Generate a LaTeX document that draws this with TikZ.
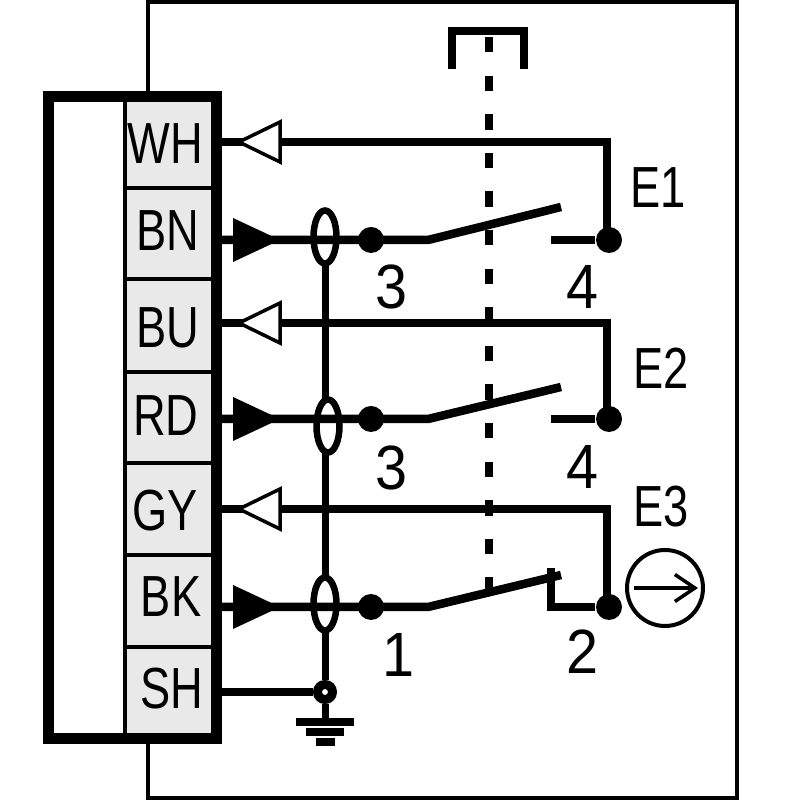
\documentclass[tikz,border=0pt]{standalone}
\usepackage{fontspec}
\setmainfont{Liberation Sans}[FakeStretch=0.78]
\newfontfamily\numfont{Liberation Sans}[FakeStretch=0.92]
\usetikzlibrary{shapes.geometric,arrows.meta}
\definecolor{cellgrey}{HTML}{E9E9E9}
\tikzset{
  pinlabel/.style={inner sep=0pt,font=\fontsize{16.5}{18}\selectfont},
  numlabel/.style={inner sep=0pt,font=\numfont\fontsize{17.8}{19}\selectfont},
  wire/.style={draw=black,line width=0.085cm},
  joint/.style={circle,fill=black,inner sep=0pt,minimum size=0.26cm},
  shield/.style={ellipse,draw=black,line width=0.065cm,inner sep=0pt,outer sep=0pt,minimum width=0.23cm,minimum height=0.53cm},
}
\begin{document}
\begin{tikzpicture}
      \useasboundingbox (0,0) rectangle (8,8);
      % housing and plug
      \draw[line width=0.04cm] (1.48,0.02) rectangle (7.37,7.98);
      \draw[fill=white,line width=0.11cm] (0.485,0.615) rectangle (2.165,7.035);
      \fill[cellgrey] (1.25,0.67) rectangle (2.11,6.98);
      \draw[line width=0.04cm] (1.25,0.67) -- (1.25,6.98);
      \draw[line width=0.04cm] (1.25,6.12) -- (2.11,6.12);
      \draw[line width=0.04cm] (1.25,5.21) -- (2.11,5.21);
      \draw[line width=0.04cm] (1.25,4.28) -- (2.11,4.28);
      \draw[line width=0.04cm] (1.25,3.37) -- (2.11,3.37);
      \draw[line width=0.04cm] (1.25,2.45) -- (2.11,2.45);
      \draw[line width=0.04cm] (1.25,1.53) -- (2.11,1.53);
      \begin{scope}[every node/.style={pinlabel}]
        \node (wh) at (1.65,6.56) {WH};
        \node (bn) at (1.68,5.69) {BN};
        \node (bu) at (1.68,4.72) {BU};
        \node (rd) at (1.66,3.84) {RD};
        \node (gy) at (1.65,2.89) {GY};
        \node (bk) at (1.71,2.03) {BK};
        \node (sh) at (1.72,1.11) {SH};
      \end{scope}
      % plug side of the wires
      \coordinate (pwh) at (2.22,6.58);
      \coordinate (pbn) at (2.22,5.60);
      \coordinate (pbu) at (2.22,4.77);
      \coordinate (prd) at (2.22,3.81);
      \coordinate (pgy) at (2.22,2.91);
      \coordinate (pbk) at (2.22,1.93);
      \coordinate (psh) at (2.22,1.08);
      % joints
      \node[joint] (a1) at (3.71,5.60) {};
      \node[joint] (a2) at (3.71,3.81) {};
      \node[joint] (a3) at (3.71,1.93) {};
      \node[joint] (b1) at (6.09,5.60) {};
      \node[joint] (b2) at (6.09,3.81) {};
      \node[joint] (b3) at (6.09,1.93) {};
      \coordinate (k1) at (4.28,5.60);
      \coordinate (k2) at (4.28,3.81);
      \coordinate (k3) at (4.28,1.93);
      \coordinate (t1) at (5.61,5.93);
      \coordinate (t2) at (5.61,4.13);
      \coordinate (t3) at (5.61,2.25);
      \coordinate (c1) at (5.51,5.60);
      \coordinate (c2) at (5.51,3.81);
      \coordinate (c3) at (5.51,1.93);
      \coordinate (r1) at (6.07,6.58);
      \coordinate (r2) at (6.07,4.77);
      \coordinate (r3) at (6.07,2.91);
      % shield
      \node[shield] (s1) at (3.25,5.63) {};
      \node[shield] (s2) at (3.28,3.74) {};
      \node[shield] (s3) at (3.25,1.96) {};
      \node[circle,draw=black,fill=white,line width=0.09cm,inner sep=0pt,minimum size=0.15cm] (gnd) at (3.25,1.08) {};
      \coordinate (g0) at (3.25,0.78);
      \draw[wire] (pwh) -- (r1) -- (r1 |- b1);
      \draw[wire] (pbu) -- (r2) -- (r2 |- b2);
      \draw[wire] (pgy) -- (r3) -- (r3 |- b3);
      \draw[wire] (pbn) -- (k1) -- (t1);
      \draw[wire] (prd) -- (k2) -- (t2);
      \draw[wire] (pbk) -- (k3) -- (t3);
      \draw[wire] ([yshift=0.39cm]c3) -- (c3) -- (b3);
      \begin{scope}[every edge/.style={wire}]
        \path (c1) edge (b1);
        \path (c2) edge (b2);
        \path (psh) edge (gnd);
      \end{scope}
      \begin{scope}[every edge/.style={draw=black,line width=0.07cm}]
        \path (s1.south) edge (s1.south |- s2.north);
        \path (s1.south |- s2.south) edge (s3.north);
        \path (s3.south) edge (gnd);
        \path (gnd) edge (g0);
      \end{scope}
      % arrow heads on the wires
      \draw[fill=white,line width=0.035cm] (2.39,6.58) -- (2.80,6.78) -- (2.80,6.38) -- cycle;
      \draw[fill=white,line width=0.035cm] (2.39,4.77) -- (2.80,4.97) -- (2.80,4.57) -- cycle;
      \draw[fill=white,line width=0.035cm] (2.39,2.91) -- (2.80,3.11) -- (2.80,2.71) -- cycle;
      \fill (2.80,5.60) -- (2.33,5.82) -- (2.33,5.38) -- cycle;
      \fill (2.80,3.81) -- (2.33,4.03) -- (2.33,3.59) -- cycle;
      \fill (2.80,1.93) -- (2.33,2.15) -- (2.33,1.71) -- cycle;
      % earth
      \draw[line width=0.08cm] (2.96,0.775) -- (3.54,0.775);
      \draw[line width=0.08cm] (3.06,0.68) -- (3.44,0.68);
      \draw[line width=0.08cm] (3.16,0.58) -- (3.35,0.58);
      % actuator
      \draw[line width=0.08cm] (4.52,7.31) -- (4.52,7.69) -- (5.24,7.69) -- (5.24,7.31);
      \draw[line width=0.08cm,dash pattern=on 0.155cm off 0.231cm] (4.89,7.63) -- (4.89,2.10);
      % output symbol
      \node[circle,draw=black,line width=0.04cm,inner sep=0pt,minimum size=0.76cm] (out) at (6.65,2.12) {};
      \coordinate (o1) at (6.34,2.12);
      \coordinate (o2) at (6.98,2.12);
      \draw[line width=0.035cm,-{Straight Barb[length=0.2cm,width=0.27cm]}] (o1) -- (o2);
      \begin{scope}[every node/.style={numlabel}]
        \node (n3a) at (3.91,5.13) {3};
        \node (n4a) at (5.82,5.13) {4};
        \node (n3b) at (3.91,3.32) {3};
        \node (n4b) at (5.82,3.33) {4};
        \node (n1) at (3.98,1.45) {1};
        \node (n2) at (5.82,1.48) {2};
      \end{scope}
      \begin{scope}[every node/.style={pinlabel}]
        \node (e1) at (6.58,6.12) {E1};
        \node (e2) at (6.61,4.32) {E2};
        \node (e3) at (6.61,2.93) {E3};
      \end{scope}
    \end{tikzpicture}
\end{document}
